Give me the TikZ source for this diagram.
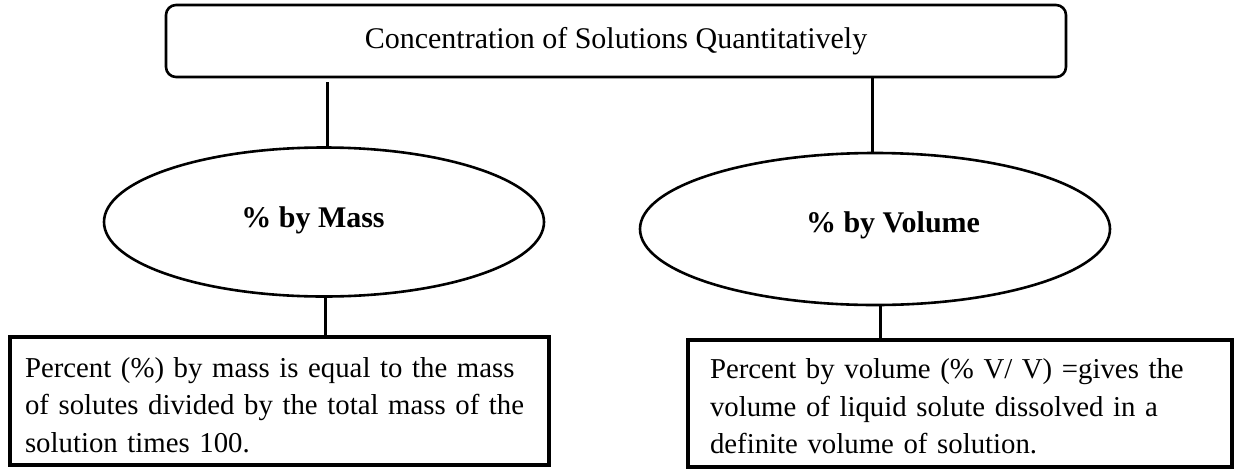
\documentclass[tikz,border=0pt]{standalone}
\usepackage{fontspec}
\setmainfont{Liberation Serif}
\usetikzlibrary{shapes.geometric}
\begin{document}
\begin{tikzpicture}[x=1pt,y=-1pt,
  line width=2.6pt,
  topbox/.style={draw,rounded corners=10pt,minimum width=900pt,minimum height=72pt,inner sep=0pt,font=\fontsize{30}{36}\selectfont},
  oval/.style={draw,ellipse,inner sep=0pt,font=\bfseries\fontsize{30}{36}\selectfont},
  textbox/.style={draw,line width=3.2pt,inner sep=0pt},
  boxtext/.style={inner sep=0pt,align=left,font=\fontsize{28.8}{37.5}\selectfont},
  conn/.style={line width=3pt}]
\useasboundingbox (0,0) rectangle (1238,472);
\node[topbox] (top) at (616,41) {\raisebox{2pt}{Concentration of Solutions Quantitatively}};
\node[oval,minimum width=440pt,minimum height=149pt] (mass) at (324,222) {\hspace*{-22pt}\raisebox{10pt}{\% by Mass}};
\node[oval,minimum width=470pt,minimum height=152pt] (vol) at (875,229) {\hspace*{36pt}\raisebox{13pt}{\% by Volume}};
\node[textbox,minimum width=539pt,minimum height=128pt] (mbox) at (279.5,401) {};
\node[boxtext,text width=509pt] (mtext) at ([yshift=-4pt]mbox.center) {Percent (\%) by mass is equal to the mass\\of solutes divided by the total mass of the\\solution times 100.};
\node[textbox,minimum width=544pt,minimum height=127pt] (vbox) at (960,403.5) {};
\node[boxtext,text width=500pt] (vtext) at ([yshift=-3pt]vbox.center) {Percent by volume (\% V/ V) =gives the\\volume of liquid solute dissolved in a\\definite volume of solution.};
\coordinate (tl) at (327,82);
\draw[conn] (tl) -- (tl |- mass.north);
\draw[conn] (top.south -| 872,0) -- (872,0 |- vol.north);
\draw[conn] (mass.south -| 325,0) -- (325,0 |- mbox.north);
\draw[conn] (vol.south -| 880,0) -- (880,0 |- vbox.north);
\end{tikzpicture}
\end{document}
